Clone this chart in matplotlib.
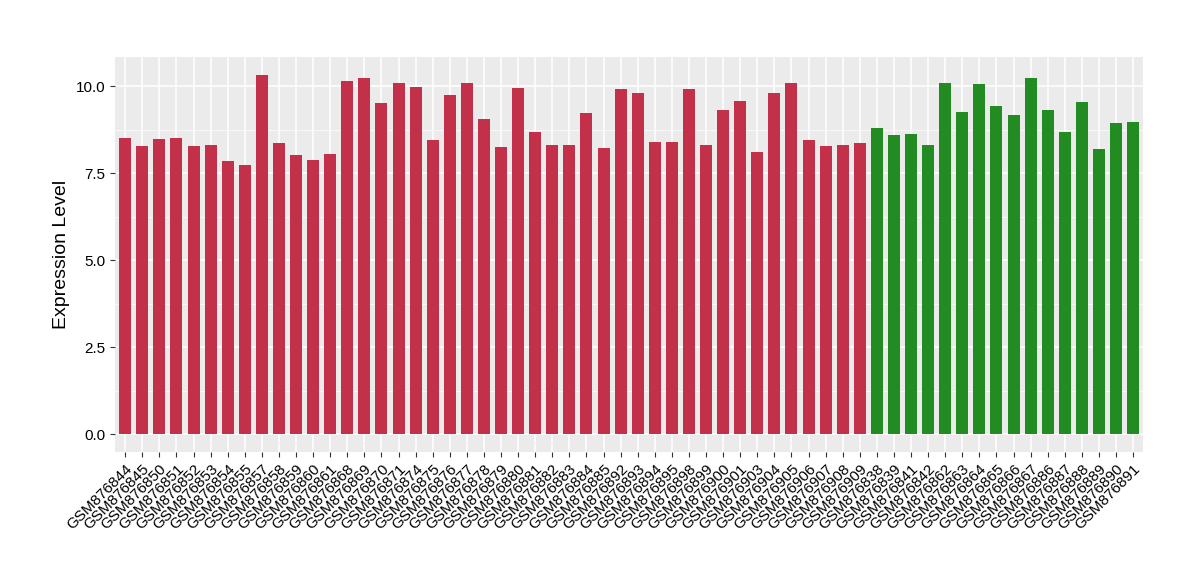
import numpy as np
import matplotlib
matplotlib.use("Agg")
import matplotlib.pyplot as plt
from matplotlib.ticker import MultipleLocator

plt.rcParams['font.family'] = ['Liberation Sans', 'DejaVu Sans']

# red group samples
red_ids = ["844", "845", "850", "851", "852", "853", "854", "855", "857", "858",
           "859", "860", "861", "868", "869", "870", "871", "874", "875", "876",
           "877", "878", "879", "880", "881", "882", "883", "884", "885", "892",
           "893", "894", "895", "898", "899", "900", "901", "903", "904", "905",
           "906", "907", "908", "909"]
red_values = [8.50, 8.27, 8.47, 8.50, 8.27, 8.30, 7.84, 7.72, 10.32, 8.36,
              8.01, 7.87, 8.04, 10.14, 10.23, 9.51, 10.09, 9.97, 8.44, 9.74,
              10.09, 9.05, 8.24, 9.94, 8.67, 8.30, 8.30, 9.22, 8.21, 9.91,
              9.80, 8.39, 8.39, 9.91, 8.30, 9.31, 9.57, 8.10, 9.80, 10.09,
              8.44, 8.27, 8.30, 8.36]

# green group samples
green_ids = ["838", "839", "841", "842", "862", "863", "864", "865", "866", "867",
             "886", "887", "888", "889", "890", "891"]
green_values = [8.79, 8.59, 8.62, 8.30, 10.09, 9.25, 10.06, 9.42, 9.16, 10.23,
                9.31, 8.67, 9.54, 8.18, 8.93, 8.96]

labels = ["GSM876" + s for s in red_ids + green_ids]
values = red_values + green_values
colors = ["#C33049"] * len(red_values) + ["#228B22"] * len(green_values)

fig = plt.figure(figsize=(12, 5.8), dpi=100)
ax = fig.add_axes([0.0958, 0.2207, 0.857, 0.681])
ax.set_facecolor("#EBEBEB")

x = np.arange(len(values))
ax.bar(x, values, width=0.7, color=colors, zorder=3)

ax.set_xlim(-0.6, len(values) - 1 + 0.6)
ax.set_ylim(-0.516, 10.836)
ax.yaxis.set_minor_locator(MultipleLocator(1.25))
ax.set_yticks([0, 2.5, 5.0, 7.5, 10.0])
ax.set_yticklabels(["0.0", "2.5", "5.0", "7.5", "10.0"])

ax.grid(True, which='major', color='white', linewidth=1.1, zorder=0)
ax.grid(True, which='minor', axis='y', color='white', linewidth=0.5, zorder=0)
ax.set_axisbelow(True)
for s in ax.spines.values():
    s.set_visible(False)

ax.set_xticks(x)
ax.set_xticklabels(labels, rotation=45, ha='right', rotation_mode='anchor', fontsize=11)
ax.tick_params(axis='both', which='major', length=3.5, color='#333333', labelsize=11)
ax.tick_params(axis='y', which='minor', length=0)
ax.set_ylabel("Expression Level", fontsize=14)

fig.savefig("out.png", dpi=100)
